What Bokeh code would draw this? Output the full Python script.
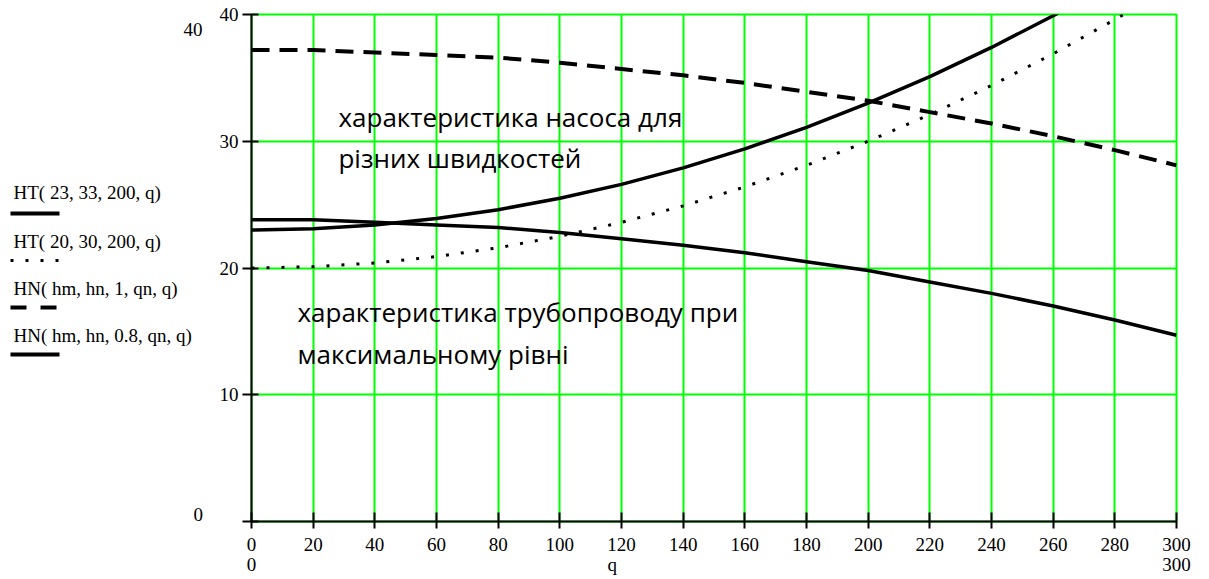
from bokeh.plotting import figure
from bokeh.layouts import row
from bokeh.models import Range1d, Label, FixedTicker, LinearAxis
from bokeh.embed import file_html
from bokeh.resources import INLINE
from bokeh.core.properties import value

# ---------------- data ----------------
q = [0, 20, 40, 60, 80, 100, 120, 140, 160, 180, 200, 220, 240, 260, 280, 300]
ht_23_33 = [23.0, 23.1, 23.4, 23.9, 24.6, 25.5, 26.6, 27.9, 29.4, 31.1, 33.0, 35.1, 37.4, 39.9, 42.6, 45.5]
ht_20_30 = [20.0, 20.1, 20.4, 20.9, 21.6, 22.5, 23.6, 24.9, 26.4, 28.1, 30.0, 32.1, 34.4, 36.9, 39.6, 42.5]
hn_1 = [37.2, 37.2, 37.0, 36.8, 36.6, 36.2, 35.7, 35.2, 34.6, 33.9, 33.2, 32.3, 31.4, 30.4, 29.3, 28.1]
hn_08 = [23.8, 23.8, 23.6, 23.4, 23.2, 22.8, 22.3, 21.8, 21.2, 20.5, 19.8, 18.9, 18.0, 17.0, 15.9, 14.7]

series_names = ["HT( 23, 33, 200, q)", "HT( 20, 30, 200, q)",
                "HN( hm, hn, 1, qn, q)", "HN( hm, hn, 0.8, qn, q)"]
x_ticks = [0, 20, 40, 60, 80, 100, 120, 140, 160, 180, 200, 220, 240, 260, 280, 300]
y_ticks = [0, 10, 20, 30, 40]
x_limits = (0, 300)
y_limits = (0, 40)
x_label = "q"
x_label_pos = 117
notes = ["характеристика насоса для", "різних швидкостей",
         "характеристика трубопроводу при", "максимальному рівні"]

# ---------------- styles / layout ----------------
GREEN = "#00ff00"
SERIF = "Liberation Serif"
SANS = "Open Sans"
FS = "19px"

W, H = 1209, 579
LW = 213                 # legend panel width
MW = W - LW
FT, FB = 14, 521         # frame top / bottom (page pixels)

# ---------------- main plot ----------------
p = figure(width=MW, height=H,
           x_range=Range1d(*x_limits), y_range=Range1d(*y_limits),
           output_backend="svg", toolbar_location=None,
           min_border_left=38, min_border_right=33,
           min_border_top=FT, min_border_bottom=H - FB,
           background_fill_color="white", border_fill_color="white")
p.outline_line_color = GREEN
p.outline_line_width = 2

p.xaxis.ticker = FixedTicker(ticks=x_ticks)
p.yaxis.ticker = FixedTicker(ticks=y_ticks)
p.yaxis.major_label_overrides = {0: ""}
for ax in (p.xaxis, p.yaxis):
    ax.axis_line_color = "black"
    ax.axis_line_width = 2
    ax.major_tick_line_color = "black"
    ax.major_tick_line_width = 2
    ax.minor_tick_line_color = None
    ax.major_label_text_font = SERIF
    ax.major_label_text_font_size = FS
    ax.major_label_text_color = "black"
p.xaxis.major_tick_in = 9
p.xaxis.major_tick_out = 7
p.xaxis.major_label_standoff = 9
p.yaxis.major_tick_in = 7
p.yaxis.major_tick_out = 9
p.yaxis.major_label_standoff = 4

# second row under the x axis: range limits and the variable name
lim_axis = LinearAxis(ticker=FixedTicker(ticks=[x_limits[0], x_label_pos, x_limits[1]]),
                      major_label_overrides={x_limits[0]: str(x_limits[0]),
                                             x_label_pos: x_label,
                                             x_limits[1]: str(x_limits[1])},
                      axis_line_color=None, major_tick_line_color=None,
                      minor_tick_line_color=None, major_tick_in=0, major_tick_out=0,
                      major_label_standoff=0, major_label_text_font=SERIF,
                      major_label_text_font_size=FS, major_label_text_color="black")
p.add_layout(lim_axis, "below")

p.grid.grid_line_color = GREEN
p.grid.grid_line_width = 2
p.grid.grid_line_alpha = 1.0

p.line(q, ht_23_33, line_color="black", line_width=3.5)
p.line(q, ht_20_30, line_color="black", line_width=3, line_dash="3 12")
p.line(q, hn_1, line_color="black", line_width=4, line_dash="18 10")
p.line(q, hn_08, line_color="black", line_width=3.5)

note_pos = [(28.2, 31.95), (28.2, 28.64), (14.9, 16.55), (14.9, 13.24)]
for (nx, ny), t in zip(note_pos, notes):
    p.add_layout(Label(x=nx, y=ny, text=t, text_font=SANS, text_font_size="26px",
                       text_color="black", text_baseline="alphabetic", text_align="left"))

# ---------------- left legend panel (page-pixel coordinates) ----------------
lf = figure(width=LW, height=H, x_range=Range1d(0, LW), y_range=Range1d(FB, FT),
            output_backend="svg", toolbar_location=None,
            x_axis_location=None, y_axis_location=None,
            min_border_left=0, min_border_right=0,
            min_border_top=FT, min_border_bottom=H - FB,
            background_fill_color="white", border_fill_color="white")
lf.outline_line_color = None
lf.grid.grid_line_color = None

lf.text(x=[13, 13, 13, 13], y=[192, 241, 288, 335], text=series_names,
        text_font=value(SERIF), text_font_size=FS, text_color="black",
        text_baseline="alphabetic", text_align="left")
lf.line([10, 59], [213, 213], line_color="black", line_width=4)
lf.line([10, 59], [260, 260], line_color="black", line_width=3, line_dash="3 12")
lf.line([10, 59], [307, 307], line_color="black", line_width=4, line_dash="16 14")
lf.line([10, 59], [354, 354], line_color="black", line_width=4)

lf.text(x=[183, 193], y=[29, 514], text=[str(y_limits[1]), str(y_limits[0])],
        text_font=value(SERIF), text_font_size=FS, text_color="black",
        text_baseline="alphabetic", text_align="left")

layout = row(lf, p)
open("out.html", "w").write(file_html(layout, INLINE))
